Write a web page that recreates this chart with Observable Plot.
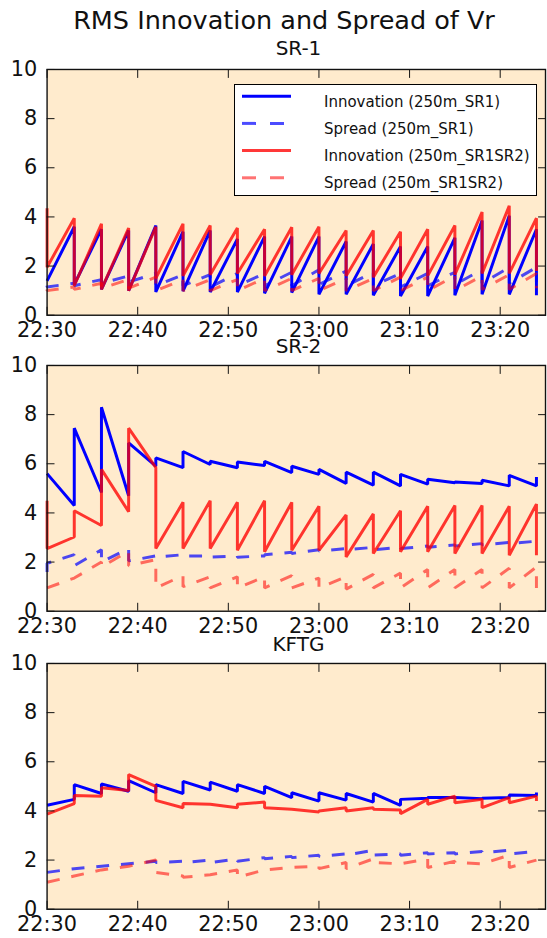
<!DOCTYPE html>
<html>
<head>
<meta charset="utf-8">
<script src="https://cdn.jsdelivr.net/npm/d3@7"></script>
<script src="https://cdn.jsdelivr.net/npm/@observablehq/plot@0.6"></script>
<style>
  html, body { margin: 0; padding: 0; background: #fff; }
  #chart { position: relative; width: 547px; height: 938px; overflow: hidden; background: #fff; font-family: "DejaVu Sans", sans-serif; }
  .panel { position: absolute; left: 0; }
  #overlay { position: absolute; left: 0; top: 0; pointer-events: none; }
  #legend { position: absolute; left: 234px; top: 84px; width: 303px; height: 112px; background: #fff; border: 1.5px solid #000; box-sizing: border-box; }
</style>
</head>
<body>
<div id="chart"></div>
<script>
// ---------------- data ----------------
const mainTitle = "RMS Innovation and Spread of Vr";
const panelTitles = ["SR-1", "SR-2", "KFTG"];
const seriesNames = ["Innovation (250m_SR1)", "Spread (250m_SR1)", "Innovation (250m_SR1SR2)", "Spread (250m_SR1SR2)"];

// cycle times (each has a prior value then a posterior value)
const times = ["22:30","22:33","22:36","22:39","22:42","22:45","22:48","22:51","22:54","22:57",
               "23:00","23:03","23:06","23:09","23:12","23:15","23:18","23:21","23:24"];
const xDomain = ["22:30", "23:25"];
const xTickLabels = ["22:30", "22:40", "22:50", "23:00", "23:10", "23:20"];
const yTicks = [0, 2, 4, 6, 8, 10];

// SR-1
const sr1InnovSR1Prior   = [1.4, 3.6, 3.5, 3.45, 3.65, 3.4, 3.45, 3.1, 3.2, 3.2, 3.2, 3.0, 2.9, 2.8, 2.8, 3.15, 3.85, 4.05, 3.5];
const sr1InnovSR1Post    = [1.4, 1.25, 1.05, 1.0, 0.95, 0.98, 0.94, 0.94, 0.89, 0.92, 0.85, 0.85, 0.81, 0.78, 0.78, 0.81, 0.85, 0.85, 0.81];
const sr1SpreadSR1Prior  = [1.2, 1.3, 1.45, 1.6, 1.7, 1.65, 1.65, 1.7, 1.7, 1.75, 1.85, 1.8, 1.75, 1.7, 1.7, 1.75, 1.85, 1.95, 1.95];
const sr1SpreadSR1Post   = [1.15, 1.2, 1.3, 1.35, 1.2, 1.2, 1.15, 1.2, 1.2, 1.2, 1.25, 1.2, 1.2, 1.15, 1.2, 1.25, 1.3, 1.3, 1.35];
const sr1InnovBothPrior  = [4.35, 3.95, 3.72, 3.55, 3.6, 3.72, 3.65, 3.55, 3.5, 3.58, 3.6, 3.45, 3.45, 3.4, 3.5, 3.65, 4.2, 4.45, 3.95];
const sr1InnovBothPost   = [1.95, 1.2, 1.05, 1.0, 1.5, 1.6, 1.65, 1.7, 1.6, 1.65, 1.7, 1.6, 1.55, 1.5, 1.6, 1.65, 1.7, 1.7, 1.8];
const sr1SpreadBothPrior = [1.05, 1.15, 1.3, 1.45, 1.55, 1.45, 1.45, 1.45, 1.5, 1.5, 1.5, 1.5, 1.5, 1.55, 1.55, 1.6, 1.6, 1.65, 1.7];
const sr1SpreadBothPost  = [1.0, 1.05, 1.1, 1.1, 1.0, 1.0, 1.0, 1.0, 1.0, 1.0, 1.0, 1.0, 1.0, 1.0, 1.0, 1.0, 1.05, 1.05, 1.1];

// SR-2
const sr2InnovSR1Prior   = [5.6, 4.3, 4.83, 4.7, 5.9, 5.84, 5.97, 5.84, 5.93, 5.64, 5.57, 5.2, 5.13, 5.1, 5.17, 5.23, 5.2, 5.1, 5.1];
const sr2InnovSR1Post    = [5.6, 7.45, 8.3, 6.85, 6.24, 6.5, 6.1, 6.07, 6.1, 5.9, 5.77, 5.66, 5.66, 5.57, 5.37, 5.26, 5.33, 5.53, 5.46];
const sr2SpreadSR1Prior  = [1.6, 2.3, 2.5, 2.55, 2.25, 2.3, 2.25, 2.25, 2.25, 2.4, 2.5, 2.55, 2.6, 2.6, 2.65, 2.7, 2.75, 2.8, 2.85];
const sr2SpreadSR1Post   = [1.95, 1.85, 2.0, 2.05, 2.2, 2.25, 2.2, 2.2, 2.3, 2.35, 2.45, 2.5, 2.5, 2.55, 2.6, 2.65, 2.7, 2.75, 2.8];
const sr2InnovBothPrior  = [4.5, 3.02, 3.49, 4.05, 5.84, 4.43, 4.5, 4.43, 4.5, 4.43, 4.27, 3.92, 3.96, 4.09, 4.27, 4.3, 4.3, 4.27, 4.36];
const sr2InnovBothPost   = [2.55, 4.09, 5.77, 7.45, 2.55, 2.55, 2.55, 2.48, 2.42, 2.48, 2.48, 2.21, 2.35, 2.42, 2.42, 2.35, 2.35, 2.28, 2.28];
const sr2SpreadBothPrior = [0.95, 1.35, 2.0, 2.45, 2.1, 1.45, 1.4, 1.4, 1.4, 1.45, 1.35, 1.4, 1.5, 1.55, 1.7, 1.7, 1.7, 1.75, 1.8];
const sr2SpreadBothPost  = [0.95, 1.35, 1.8, 1.85, 0.95, 1.0, 0.95, 0.95, 0.95, 0.95, 0.95, 0.9, 0.95, 0.95, 0.95, 0.95, 0.95, 0.95, 0.95];

// KFTG
const kftgInnovSR1Prior   = [4.23, 4.47, 4.71, 4.8, 4.74, 4.71, 4.85, 4.8, 4.71, 4.54, 4.4, 4.44, 4.36, 4.23, 4.52, 4.55, 4.5, 4.55, 4.63];
const kftgInnovSR1Post    = [4.23, 5.07, 5.1, 5.23, 5.07, 5.2, 5.17, 5.07, 5.0, 4.74, 4.74, 4.71, 4.71, 4.47, 4.55, 4.55, 4.52, 4.65, 4.75];
const kftgSpreadSR1Prior  = [1.5, 1.65, 1.75, 1.85, 1.95, 1.95, 2.0, 2.05, 2.1, 2.15, 2.2, 2.25, 2.4, 2.25, 2.3, 2.3, 2.35, 2.4, 2.35];
const kftgSpreadSR1Post   = [1.5, 1.65, 1.75, 1.85, 1.9, 1.9, 1.9, 1.95, 2.05, 2.1, 2.15, 2.2, 2.2, 2.2, 2.25, 2.25, 2.3, 2.25, 2.3];
const kftgInnovBothPrior  = [3.87, 4.3, 4.6, 4.83, 5.0, 4.13, 4.27, 4.13, 4.36, 4.07, 3.96, 4.13, 4.13, 4.04, 4.47, 4.6, 4.47, 4.54, 4.6];
const kftgInnovBothPost   = [3.87, 4.63, 4.94, 5.48, 4.43, 4.3, 4.27, 4.27, 4.13, 4.07, 4.0, 4.0, 4.07, 3.89, 4.27, 4.33, 4.13, 4.33, 4.4];
const kftgSpreadBothPrior = [1.1, 1.35, 1.6, 1.75, 2.0, 1.35, 1.4, 1.6, 1.6, 1.7, 1.75, 1.9, 2.05, 1.85, 2.05, 1.95, 1.85, 2.2, 2.0];
const kftgSpreadBothPost  = [1.1, 1.35, 1.6, 1.75, 1.5, 1.3, 1.4, 1.3, 1.6, 1.7, 1.65, 1.65, 1.9, 1.85, 1.7, 1.9, 1.85, 1.7, 2.0];

// ---------------- build ----------------
const parse = d3.utcParse("%H:%M");
const fmt = d3.utcFormat("%H:%M");
function path(prior, post) {
  return times.flatMap((t, i) => [{t: parse(t), v: prior[i]}, {t: parse(t), v: post[i]}]);
}

const BG = "#ffebcd";
const styles = [
  {stroke: "#0000ff", strokeOpacity: 1, dash: null},
  {stroke: "#0000ff", strokeOpacity: 0.7, dash: "13,12"},
  {stroke: "#ff0000", strokeOpacity: 0.78, dash: null},
  {stroke: "#ff0000", strokeOpacity: 0.55, dash: "13,12"}
];

const panels = [
  {title: panelTitles[0], frameTop: 69, titleY: 55, series: [
    path(sr1InnovSR1Prior, sr1InnovSR1Post), path(sr1SpreadSR1Prior, sr1SpreadSR1Post),
    path(sr1InnovBothPrior, sr1InnovBothPost), path(sr1SpreadBothPrior, sr1SpreadBothPost)]},
  {title: panelTitles[1], frameTop: 365, titleY: 353, series: [
    path(sr2InnovSR1Prior, sr2InnovSR1Post), path(sr2SpreadSR1Prior, sr2SpreadSR1Post),
    path(sr2InnovBothPrior, sr2InnovBothPost), path(sr2SpreadBothPrior, sr2SpreadBothPost)]},
  {title: panelTitles[2], frameTop: 663, titleY: 651, series: [
    path(kftgInnovSR1Prior, kftgInnovSR1Post), path(kftgSpreadSR1Prior, kftgSpreadSR1Post),
    path(kftgInnovBothPrior, kftgInnovBothPost), path(kftgSpreadBothPrior, kftgSpreadBothPost)]}
];

const chart = document.getElementById("chart");
const xTicks = xTickLabels.map(parse);
const MT = 2, MB = 30, FRAME_H = 248;

panels.forEach(p => {
  const lineMarks = p.series.map((data, i) => Plot.line(data, {
    x: "t", y: "v", stroke: styles[i].stroke, strokeOpacity: styles[i].strokeOpacity,
    strokeWidth: 3, strokeDasharray: styles[i].dash, strokeLinejoin: "miter", strokeLinecap: "butt"
  }));
  const svg = Plot.plot({
    width: 552, height: FRAME_H + MT + MB,
    marginLeft: 47, marginRight: 2, marginTop: MT, marginBottom: MB,
    x: {type: "utc", domain: xDomain.map(parse)},
    y: {domain: [0, 10]},
    style: {fontFamily: "DejaVu Sans", fontSize: "21px", background: "none", overflow: "visible", color: "#111"},
    marks: [
      Plot.frame({fill: BG}),
      ...lineMarks,
      Plot.axisX({anchor: "bottom", ticks: xTicks, tickSize: -8, tickPadding: 15.5, tickFormat: fmt, label: null, fontSize: 21}),
      Plot.axisX({anchor: "top", ticks: xTicks, tickSize: -8, tickFormat: () => "", label: null}),
      Plot.axisY({anchor: "left", ticks: yTicks, tickSize: -8, tickPadding: 18, label: null, fontSize: 21}),
      Plot.axisY({anchor: "right", ticks: yTicks, tickSize: -8, tickFormat: () => "", label: null}),
      Plot.frame({stroke: "#111", strokeWidth: 1.4})
    ]
  });
  const wrap = document.createElement("div");
  wrap.className = "panel";
  wrap.style.top = (p.frameTop - MT) + "px";
  wrap.appendChild(svg);
  chart.appendChild(wrap);
});

// titles overlay
const ns = "http://www.w3.org/2000/svg";
const ov = document.createElementNS(ns, "svg");
ov.setAttribute("id", "overlay");
ov.setAttribute("width", 547); ov.setAttribute("height", 938);
function addText(svg, str, x, y, size, anchor) {
  const t = document.createElementNS(ns, "text");
  t.setAttribute("x", x); t.setAttribute("y", y);
  t.setAttribute("font-family", "DejaVu Sans"); t.setAttribute("font-size", size);
  t.setAttribute("text-anchor", anchor); t.setAttribute("fill", "#111");
  t.textContent = str; svg.appendChild(t);
}
addText(ov, mainTitle, 284, 29, 25.5, "middle");
panels.forEach(p => addText(ov, p.title, 298.5, p.titleY, 20, "middle"));
chart.appendChild(ov);

// legend (inside first panel)
const lg = document.createElement("div");
lg.id = "legend";
const ls = document.createElementNS(ns, "svg");
ls.setAttribute("width", 300); ls.setAttribute("height", 109);
seriesNames.forEach((name, i) => {
  const y = 11.2 + i * 27.2;
  const l = document.createElementNS(ns, "line");
  l.setAttribute("x1", 7); l.setAttribute("x2", 56); l.setAttribute("y1", y); l.setAttribute("y2", y);
  l.setAttribute("stroke", styles[i].stroke); l.setAttribute("stroke-opacity", styles[i].strokeOpacity);
  l.setAttribute("stroke-width", 3);
  if (styles[i].dash) l.setAttribute("stroke-dasharray", "14,14");
  ls.appendChild(l);
  addText(ls, name, 89, y + 10.5, 15, "start");
});
lg.appendChild(ls);
chart.appendChild(lg);
</script>
</body>
</html>
